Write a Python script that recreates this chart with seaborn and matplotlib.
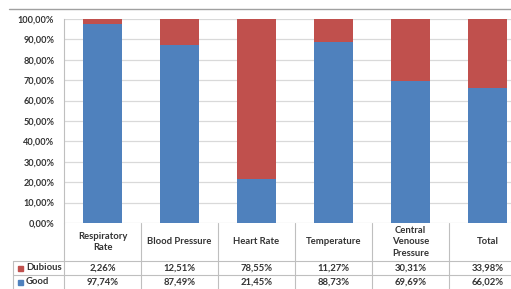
import matplotlib
matplotlib.use("Agg")
import matplotlib.pyplot as plt
import matplotlib.transforms as mtransforms
from matplotlib.lines import Line2D
from matplotlib.patches import Rectangle
import pandas as pd
import seaborn as sns

categories = ["Respiratory\nRate", "Blood Pressure", "Heart Rate", "Temperature",
              "Central\nVenouse\nPressure", "Total"]
dubious = [2.26, 12.51, 78.55, 11.27, 30.31, 33.98]
good = [97.74, 87.49, 21.45, 88.73, 69.69, 66.02]
y_ticks = [0, 10, 20, 30, 40, 50, 60, 70, 80, 90, 100]

RED = "#C0504D"
BLUE = "#4F81BD"
TXT = "#333333"
LINE = "#BFBFBF"

sns.set_theme(style="white")
plt.rcParams["font.family"] = ["Lato", "DejaVu Sans"]

df = pd.DataFrame({"category": categories, "good": good, "dubious": dubious})
df["stack"] = df["good"] + df["dubious"]

W, H = 511, 289
fig = plt.figure(figsize=(W / 100, H / 100), dpi=100)
ax = fig.add_axes([64 / W, 66 / H, 462 / W, 204 / H])

# stacked bars: full stack in red, good part drawn over it in blue
sns.barplot(data=df, x="category", y="stack", color=RED, saturation=1, width=0.51,
            linewidth=0, ax=ax)
sns.barplot(data=df, x="category", y="good", color=BLUE, saturation=1, width=0.51,
            linewidth=0, ax=ax)

ax.set_xlim(-0.5, len(categories) - 0.5)
ax.set_ylim(0, 100)
ax.set_yticks(y_ticks)
ax.set_yticklabels([f"{v:.2f}%".replace(".", ",") for v in y_ticks],
                   fontsize=6.6, fontweight="bold", color=TXT)
ax.set_xticks([])
ax.set_xlabel("")
ax.set_ylabel("")
ax.tick_params(axis="y", length=0, pad=7)
ax.yaxis.grid(True, color="#D9D9D9", linewidth=0.9)
ax.set_axisbelow(True)
for s in ["top", "right", "bottom"]:
    ax.spines[s].set_visible(False)
ax.spines["left"].set_color(LINE)
ax.spines["left"].set_linewidth(0.8)

# chart border top line
fig.add_artist(Line2D([9 / W, 1], [1 - 9 / H, 1 - 9 / H], color="#A0A0A0", linewidth=1))

# data table below the plot
tr = mtransforms.blended_transform_factory(ax.transData, fig.transFigure)
y_head_top = 66 / H
y_row1 = 28 / H
y_row2 = 14 / H
n = len(categories)
for i in range(n + 1):
    fig.add_artist(Line2D([i - 0.5, i - 0.5], [0, y_head_top], transform=tr,
                          color=LINE, linewidth=0.8))
for yy in (y_row1, y_row2):
    fig.add_artist(Line2D([13 / W, 1], [yy, yy], color=LINE, linewidth=0.8))
fig.add_artist(Line2D([13 / W, 13 / W], [0, y_row1], color=LINE, linewidth=0.8))

fs = 6.8
for i, cat in enumerate(categories):
    fig.text(i, (y_head_top + y_row1) / 2, cat, transform=tr, ha="center", va="center",
             fontsize=fs, fontweight="bold", color=TXT, linespacing=1.35)
    fig.text(i, (y_row1 + y_row2) / 2, f"{dubious[i]:.2f}%".replace(".", ","), transform=tr,
             ha="center", va="center", fontsize=fs, fontweight="bold", color=TXT)
    fig.text(i, y_row2 / 2, f"{good[i]:.2f}%".replace(".", ","), transform=tr,
             ha="center", va="center", fontsize=fs, fontweight="bold", color=TXT)

for label, col, yc in (("Dubious", RED, (y_row1 + y_row2) / 2), ("Good", BLUE, y_row2 / 2)):
    fig.add_artist(Rectangle((18 / W, yc - 2.5 / H), 5 / W, 5 / H, color=col,
                             transform=fig.transFigure))
    fig.text(26 / W, yc, label, ha="left", va="center", fontsize=fs,
             fontweight="bold", color=TXT)

fig.savefig("out.png", dpi=100)
